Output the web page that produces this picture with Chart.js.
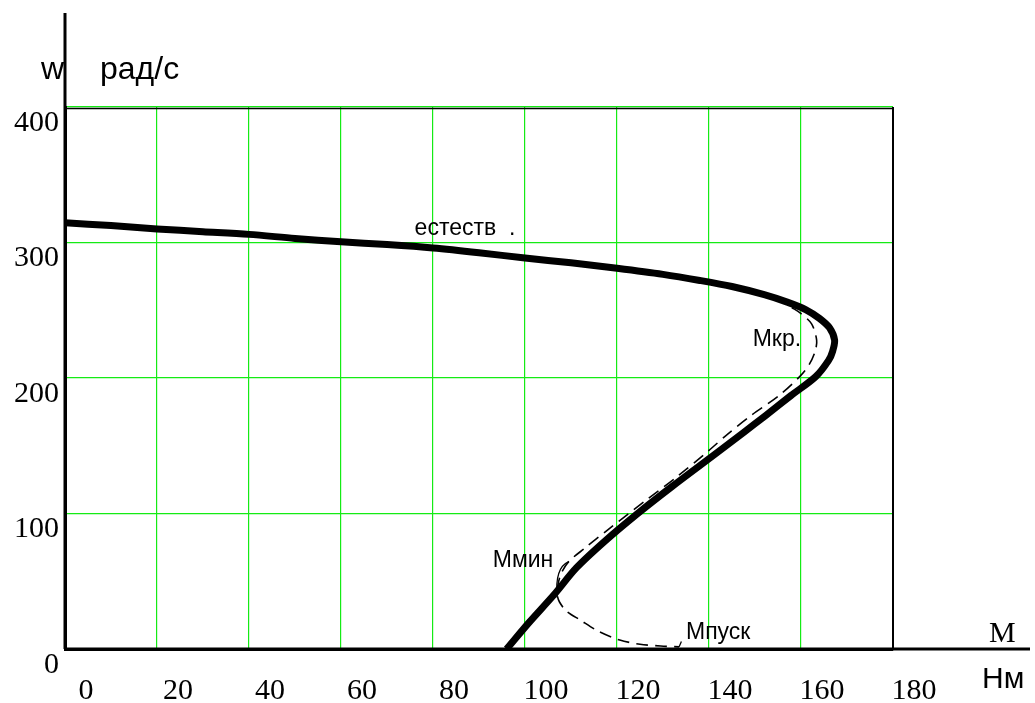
<!DOCTYPE html>
<html>
<head>
<meta charset="utf-8">
<script src="https://cdn.jsdelivr.net/npm/chart.js@4.4.1/dist/chart.umd.min.js"></script>
<style>
  html, body { margin: 0; padding: 0; background: #fff; }
  canvas { display: block; }
</style>
</head>
<body>
<canvas id="chart" width="1035" height="703"></canvas>
<script>
// natural characteristic (естеств.) - torque M, speed w
var natM = [0, 10, 20, 30, 40, 50, 60, 70, 80, 90, 100, 110, 120, 130, 138, 145, 152, 157, 161, 164, 166.2, 167.3, 166.9, 166, 163.2, 157.8, 152.2, 147.6, 141, 132, 124.5, 117.5, 111.2, 106.3, 101, 96];
var natW = [314.5, 312.5, 310, 308, 306, 303, 300.5, 298.5, 296, 292.5, 288.5, 285, 281, 276.5, 272, 267.5, 261.5, 256, 250.5, 244, 237, 228, 220, 213, 201, 187, 172, 160, 143, 120, 100, 80, 60, 40, 20, 0];

// dashed curve (Мкр. / Ммин / Мпуск)
var dashM = [158, 159.8, 162.3, 163.4, 163.1, 161.8, 159.7, 155.2, 149, 144.2, 139.8, 133, 126.4, 118, 113, 109.5, 107.9, 107.2, 107, 107.5, 109, 112, 116, 120.6, 125, 129.5, 133.5];
var dashW = [252, 248, 240, 228, 220, 210, 201, 187, 172, 159, 146, 127, 110, 88, 74.4, 64.5, 56, 48, 40, 34.7, 28, 21.4, 13, 6.6, 3.5, 2.2, 1.6];

var xTicks = [0, 20, 40, 60, 80, 100, 120, 140, 160, 180];
var yTicks = [0, 100, 200, 300, 400];

// curve labels, placed in data units
var notes = [
  { text: 'естеств  .', m: 76, w: 310 },
  { text: 'Мкр.', m: 149.5, w: 228 },
  { text: 'Ммин', m: 93, w: 65 },
  { text: 'Мпуск', m: 135, w: 12 }
];

function pts(ms, ws) {
  return ms.map(function (m, i) { return { x: m, y: ws[i] }; });
}

var green = 'rgb(20,235,20)';
var serif = 'Liberation Serif';
var sans = 'Liberation Sans';

var decor = {
  id: 'decor',
  beforeDatasetsDraw: function (chart) {
    var c = chart.ctx, a = chart.chartArea;
    c.save();
    c.strokeStyle = '#000';
    // left axis runs up past the plot
    c.lineWidth = 3;
    c.beginPath(); c.moveTo(a.left, 13); c.lineTo(a.left, a.bottom); c.stroke();
    // bottom axis runs on to the right
    c.beginPath(); c.moveTo(a.left, a.bottom); c.lineTo(1030, a.bottom); c.stroke();
    // top and right frame
    c.lineWidth = 1.5;
    c.beginPath(); c.moveTo(a.left, a.top + 1.5); c.lineTo(a.right, a.top + 1.5); c.stroke();
    c.lineWidth = 2;
    c.beginPath(); c.moveTo(a.right, a.top); c.lineTo(a.right, a.bottom); c.stroke();
    c.restore();
  },
  afterDatasetsDraw: function (chart) {
    var c = chart.ctx;
    var xs = chart.scales.x, ys = chart.scales.y;
    c.save();
    c.fillStyle = '#000';
    c.textBaseline = 'middle';
    c.textAlign = 'left';
    c.font = '23px "' + sans + '"';
    notes.forEach(function (n) {
      c.fillText(n.text, xs.getPixelForValue(n.m), ys.getPixelForValue(n.w));
    });
    // small leader strokes
    c.strokeStyle = '#000';
    c.lineWidth = 1.3;
    c.beginPath();
    c.moveTo(xs.getPixelForValue(109.5), ys.getPixelForValue(64.5));
    c.quadraticCurveTo(xs.getPixelForValue(106.4), ys.getPixelForValue(60), xs.getPixelForValue(107), ys.getPixelForValue(38));
    c.stroke();
    c.beginPath();
    c.moveTo(xs.getPixelForValue(133.5), ys.getPixelForValue(1.6));
    c.lineTo(xs.getPixelForValue(134), ys.getPixelForValue(5.5));
    c.stroke();
    // axis titles
    c.font = '32px "' + sans + '"';
    c.fillText('w', 41, 70);
    c.fillText('рад/с', 100, 70);
    c.font = '30px "' + sans + '"';
    c.fillText('Нм', 982, 680);
    c.font = '30px "' + serif + '"';
    c.fillText('M', 989, 634);
    c.restore();
  }
};

new Chart(document.getElementById('chart').getContext('2d'), {
  type: 'scatter',
  data: {
    datasets: [
      {
        label: 'dashed',
        data: pts(dashM, dashW),
        showLine: true,
        borderColor: '#000',
        borderWidth: 1.6,
        borderDash: [12, 7],
        pointRadius: 0,
        tension: 0.3,
        fill: false
      },
      {
        label: 'естеств.',
        data: pts(natM, natW),
        showLine: true,
        borderColor: '#000',
        borderWidth: 7,
        pointRadius: 0,
        tension: 0.3,
        fill: false
      }
    ]
  },
  options: {
    responsive: false,
    animation: false,
    layout: { padding: { top: 107, right: 142, left: 0, bottom: 0 } },
    plugins: { legend: { display: false }, tooltip: { enabled: false } },
    scales: {
      x: {
        type: 'linear',
        min: 0,
        max: 180,
        afterFit: function (s) { s.height = 54; },
        afterBuildTicks: function (s) { s.ticks = xTicks.map(function (v) { return { value: v }; }); },
        ticks: {
          color: '#000',
          font: { family: serif, size: 30 },
          labelOffset: 21,
          padding: 24,
          maxRotation: 0
        },
        grid: {
          drawTicks: false,
          lineWidth: 1.2,
          color: function (ctx) {
            if (ctx.tick.value === 0) return 'rgba(0,0,0,0)';
            if (ctx.tick.value === 180) return '#000';
            return green;
          }
        },
        border: { color: '#000', width: 3 }
      },
      y: {
        type: 'linear',
        min: 0,
        max: 400,
        afterFit: function (s) { s.width = 65; },
        afterBuildTicks: function (s) { s.ticks = yTicks.map(function (v) { return { value: v }; }); },
        ticks: {
          color: '#000',
          font: { family: serif, size: 30 },
          labelOffset: 16,
          padding: 6
        },
        grid: {
          drawTicks: false,
          lineWidth: 1.2,
          color: function (ctx) {
            return ctx.tick.value === 0 ? 'rgba(0,0,0,0)' : green;
          }
        },
        border: { color: '#000', width: 3 }
      }
    }
  },
  plugins: [decor]
});
</script>
</body>
</html>
